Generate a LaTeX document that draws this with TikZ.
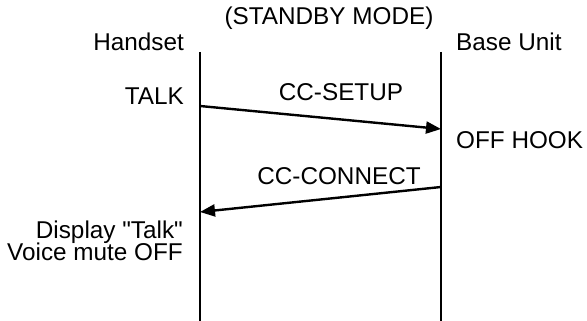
\documentclass[tikz,border=0pt]{standalone}
\usepackage{fontspec}
\setmainfont{Liberation Sans}
\usetikzlibrary{arrows.meta, positioning}
\tikzset{
    lbl/.style={inner sep=0pt, font=\fontsize{24.3}{27}\selectfont},
    life/.style={line width=2.6pt},
    msg/.style={-{Triangle[length=15pt, width=12pt]}, line width=2.4pt},
}
\begin{document}
\begin{tikzpicture}[x=1pt, y=-1pt]
\useasboundingbox (0,0) rectangle (587,321);

\node[lbl, anchor=base] (mode) at (329,25) {(STANDBY MODE)};

% ── Lifelines ──
\coordinate (hs top) at (200,52);
\coordinate (hs bot) at (200,321);
\coordinate (bu top) at (441,52);
\coordinate (bu bot) at (441,321);
\draw[life] (hs top) -- (hs bot);
\draw[life] (bu top) -- (bu bot);

\node[lbl, anchor=base east] (hs) at (184,51) {Handset};
\node[lbl, anchor=base west] (bu) at (456,51) {Base Unit};

% ── Handset side ──
\node[lbl, anchor=base east] (talk) at (184,104) {TALK};
\node[lbl, anchor=base east] (disp) at (183,238) {Display \textquotedbl Talk\textquotedbl};
\node[lbl, anchor=base east] (mute) at (183,260) {Voice mute OFF};

% ── Base side ──
\node[lbl, anchor=base west] (hook) at (456,149) {OFF HOOK};

% ── Messages ──
\coordinate (setup a) at (200,106);
\coordinate (setup b) at (441,129);
\coordinate (conn a) at (441,187);
\coordinate (conn b) at (200,212);
\draw[msg] (setup a) -- (setup b);
\draw[msg] (conn a) -- (conn b);

\node[lbl, anchor=base] (setup) at (341,101) {CC-SETUP};
\node[lbl, anchor=base] (conn) at (339,184) {CC-CONNECT};

\end{tikzpicture}
\end{document}
